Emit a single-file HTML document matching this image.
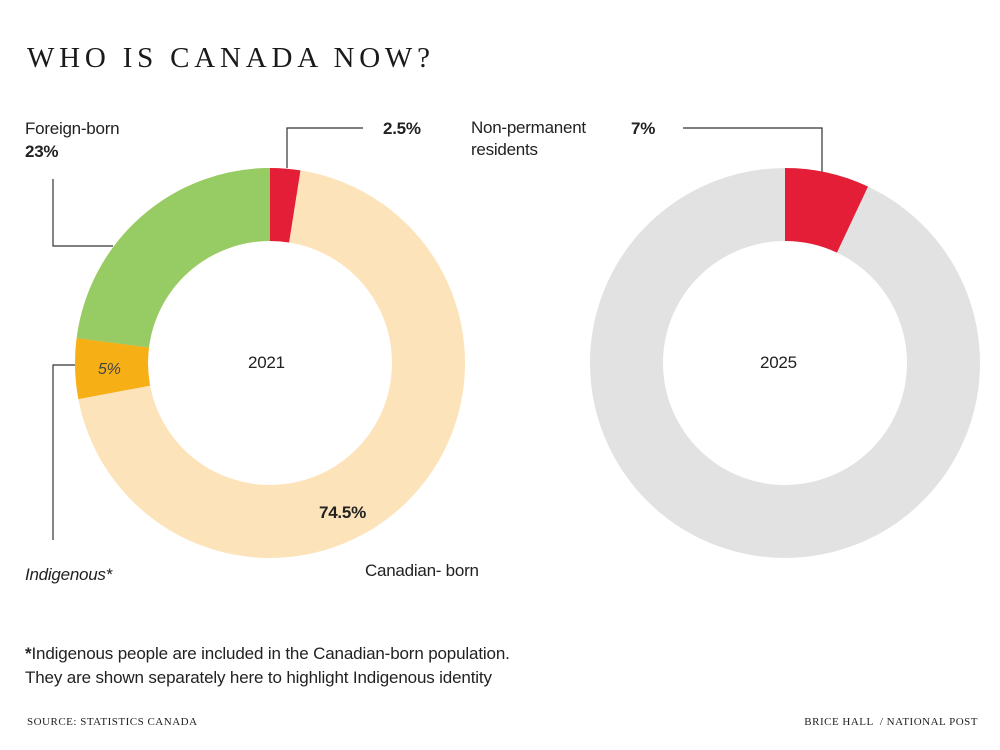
<!DOCTYPE html>
<html><head><style>
body{margin:0;width:1000px;height:750px;background:#fff;overflow:hidden;position:relative;font-family:"Liberation Sans",Arial,sans-serif;color:#222}
.t{position:absolute;white-space:nowrap;letter-spacing:-0.25px}
</style></head><body>
<div class="t" style="left:27px;top:42px;font-family:'Liberation Serif',serif;font-size:29px;letter-spacing:4.8px;color:#1a1a1a">WHO IS CANADA NOW?</div>
<svg width="1000" height="750" style="position:absolute;left:0;top:0">
<g transform="rotate(-90 270 363)" fill="none" stroke-width="73">
<circle cx="270" cy="363" r="158.5" stroke="#fde3b9"/>
<circle cx="270" cy="363" r="158.5" stroke="#e31e36" stroke-dasharray="24.9 2000"/>
<circle cx="270" cy="363" r="158.5" stroke="#f6b016" stroke-dasharray="49.8 2000" stroke-dashoffset="-717.1"/>
<circle cx="270" cy="363" r="158.5" stroke="#97cc64" stroke-dasharray="229.1 2000" stroke-dashoffset="-766.9"/>
</g>
<g transform="rotate(-90 785 363)" fill="none" stroke-width="73">
<circle cx="785" cy="363" r="158.5" stroke="#e2e2e2"/>
<circle cx="785" cy="363" r="158.5" stroke="#e31e36" stroke-dasharray="69.7 2000"/>
</g>
<g stroke="#333" stroke-width="1.2" fill="none">
<polyline points="287,168 287,128 363,128"/>
<polyline points="113,246 53,246 53,179"/>
<polyline points="75,365 53,365 53,540"/>
<polyline points="822,172 822,128 683,128"/>
</g>
</svg>
<div class="t" style="left:25px;top:119px;font-size:17px">Foreign-born</div>
<div class="t" style="left:25px;top:142px;font-size:17px;font-weight:bold">23%</div>
<div class="t" style="left:383px;top:119px;font-size:17px;font-weight:bold">2.5%</div>
<div class="t" style="left:471px;top:117px;font-size:17px;line-height:22px">Non-permanent<br>residents</div>
<div class="t" style="left:631px;top:119px;font-size:17px;font-weight:bold">7%</div>
<div class="t" style="left:248px;top:353px;font-size:17px">2021</div>
<div class="t" style="left:760px;top:353px;font-size:17px">2025</div>
<div class="t" style="left:98px;top:361px;font-size:16px;font-style:italic;color:#444">5%</div>
<div class="t" style="left:319px;top:503px;font-size:17px;font-weight:bold">74.5%</div>
<div class="t" style="left:365px;top:561px;font-size:17px">Canadian- born</div>
<div class="t" style="left:25px;top:565px;font-size:17px;font-style:italic">Indigenous*</div>
<div class="t" style="left:25px;top:642px;font-size:17px;line-height:24px;letter-spacing:-0.15px"><b>*</b>Indigenous people are included in the Canadian-born population.<br>They are shown separately here to highlight Indigenous identity</div>
<div class="t" style="left:27px;top:716px;font-family:'Liberation Serif',serif;font-size:11px;letter-spacing:0.5px">SOURCE: STATISTICS CANADA</div>
<div class="t" style="right:22px;top:716px;font-family:'Liberation Serif',serif;font-size:11px;letter-spacing:0.5px">BRICE HALL &nbsp;/ NATIONAL POST</div>
</body></html>
